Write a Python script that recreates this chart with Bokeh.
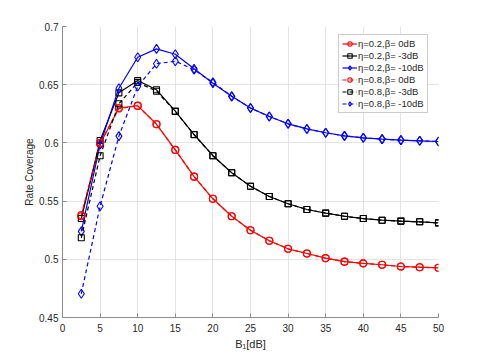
from bokeh.plotting import figure
from bokeh.models import Range1d, FixedTicker, Legend, LegendItem
from bokeh.embed import file_html
from bokeh.resources import INLINE

# ---- data ----
b1_db = [2.5, 5, 7.5, 10, 12.5, 15, 17.5, 20, 22.5, 25, 27.5, 30, 32.5, 35, 37.5, 40, 42.5, 45, 47.5, 50]

eta02_b0 = [0.537, 0.599, 0.630, 0.632, 0.616, 0.594, 0.571, 0.552, 0.537, 0.525, 0.516, 0.509, 0.505, 0.501, 0.498, 0.4965, 0.4953, 0.4938, 0.4932, 0.4927]
eta02_b3 = [0.535, 0.602, 0.643, 0.6536, 0.6456, 0.6273, 0.6072, 0.589, 0.5743, 0.5628, 0.554, 0.5477, 0.5428, 0.5397, 0.537, 0.535, 0.5336, 0.5328, 0.5322, 0.5313]
eta02_b10 = [0.524, 0.5986, 0.647, 0.6736, 0.6808, 0.6762, 0.6637, 0.6513, 0.640, 0.630, 0.6227, 0.6164, 0.612, 0.6087, 0.606, 0.6044, 0.6032, 0.6024, 0.6018, 0.6012]
eta08_b0 = [0.538, 0.600, 0.6295, 0.6318, 0.616, 0.594, 0.571, 0.552, 0.537, 0.525, 0.516, 0.509, 0.505, 0.501, 0.498, 0.4965, 0.4953, 0.4938, 0.4932, 0.4927]
eta08_b3 = [0.5185, 0.589, 0.6336, 0.652, 0.6444, 0.627, 0.607, 0.589, 0.5743, 0.5628, 0.554, 0.5477, 0.5428, 0.5397, 0.537, 0.535, 0.5336, 0.5328, 0.5322, 0.5313]
eta08_b10 = [0.4704, 0.5456, 0.6058, 0.6485, 0.668, 0.6702, 0.6628, 0.652, 0.640, 0.630, 0.6227, 0.6164, 0.612, 0.6087, 0.606, 0.6044, 0.6032, 0.6024, 0.6018, 0.6012]

labels = ["η=0.2,β= 0dB", "η=0.2,β= -3dB", "η=0.2,β= -10dB",
          "η=0.8,β= 0dB", "η=0.8,β= -3dB", "η=0.8,β= -10dB"]

x_ticks = [0, 5, 10, 15, 20, 25, 30, 35, 40, 45, 50]
y_ticks = [0.45, 0.5, 0.55, 0.6, 0.65, 0.7]
y_tick_labels = ["0.45", "0.5", "0.55", "0.6", "0.65", "0.7"]

FONT = "Liberation Sans"

p = figure(width=480, height=352, output_backend="svg", toolbar_location=None,
           x_range=Range1d(0, 50), y_range=Range1d(0.45, 0.7),
           min_border_left=62, min_border_right=42, min_border_top=26, min_border_bottom=35)
p.outline_line_color = None
p.background_fill_color = "white"

for ax in (p.xaxis[0], p.yaxis[0]):
    ax.axis_line_color = "#8c8c8c"
    ax.major_tick_line_color = "#8c8c8c"
    ax.major_tick_in = 4
    ax.major_tick_out = 0
    ax.minor_tick_line_color = None
    ax.major_label_text_font = FONT
    ax.major_label_text_font_size = "10px"
    ax.major_label_text_color = "#262626"
    ax.axis_label_text_font = FONT
    ax.axis_label_text_font_style = "normal"
    ax.axis_label_text_color = "#262626"

p.xaxis.axis_label_text_font_size = "11px"
p.yaxis.axis_label_text_font_size = "10px"
p.xaxis.major_label_standoff = 6
p.yaxis.major_label_standoff = 4
p.xaxis.axis_label_standoff = 3
p.yaxis.axis_label_standoff = 1

p.xaxis.ticker = FixedTicker(ticks=x_ticks)
p.yaxis.ticker = FixedTicker(ticks=y_ticks)
p.yaxis.major_label_overrides = {v: s for v, s in zip(y_ticks, y_tick_labels)}
p.xaxis.axis_label = "B₁[dB]"
p.yaxis.axis_label = "Rate Coverage"

p.xgrid.ticker = FixedTicker(ticks=x_ticks)
p.ygrid.ticker = FixedTicker(ticks=y_ticks)
p.grid.grid_line_color = "#e3e3e3"

series = [
    (eta02_b0, "#ff0000", "circle", "solid", 7),
    (eta02_b3, "#000000", "square", "solid", 6),
    (eta02_b10, "#0000ff", "diamond", "solid", 9),
    (eta08_b0, "#ff0000", "circle", "dashed", 7),
    (eta08_b3, "#000000", "square", "dashed", 6),
    (eta08_b10, "#0000ff", "diamond", "dashed", 9),
]

items = []
for (ys, col, mk, dash, sz), lab in zip(series, labels):
    ln = p.line(b1_db, ys, line_color=col, line_width=1.2, line_dash="4 3" if dash == "dashed" else "solid")
    sc = p.scatter(b1_db, ys, marker=mk, size=sz, line_color=col, fill_color=None, line_width=1.1)
    items.append(LegendItem(label=lab, renderers=[ln, sc]))

legend = Legend(items=items, location=(276, 204))
legend.label_text_font = FONT
legend.label_text_font_size = "9.5px"
legend.label_text_color = "#262626"
legend.label_height = 11
legend.glyph_height = 11
legend.glyph_width = 15
legend.spacing = 1
legend.padding = 3
legend.margin = 0
legend.label_standoff = 1
legend.border_line_color = "#9a9a9a"
legend.border_line_width = 1
legend.background_fill_color = "white"
legend.background_fill_alpha = 1.0
p.add_layout(legend, "center")

open("out.html", "w").write(file_html(p, INLINE))
